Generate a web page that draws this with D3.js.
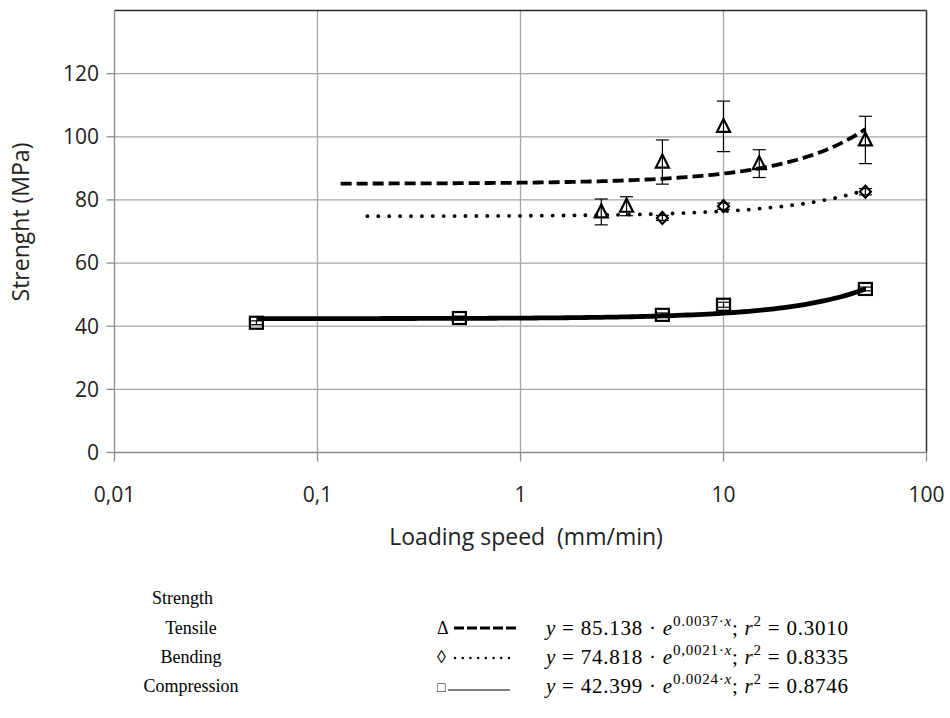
<!DOCTYPE html>
<html>
<head>
  <script src="https://cdnjs.cloudflare.com/ajax/libs/d3/7.8.5/d3.min.js"></script>
  <style>
    body { margin: 0; background: white; }
    .tick-label { font-family: "Open Sans", sans-serif; font-size: 21px; fill: #222; }
    .axis-title { font-family: "Open Sans", sans-serif; font-size: 23px; fill: #222; }
    .legend-text { font-family: "Liberation Serif", serif; font-size: 18px; fill: #000; }
    .eq { font-family: "Liberation Serif", serif; font-size: 21px; fill: #000; }
  </style>
</head>
<body>
  <div id="chart"></div>

  <script>
    // Data
    const xTicks = [0.01, 0.1, 1, 10, 100];
    const xTickLabels = ["0,01", "0,1", "1", "10", "100"];
    const yTicks = [0, 20, 40, 60, 80, 100, 120];

    const tensileX = [2.5, 3.33, 5, 10, 15, 50];
    const tensileY = [76.2, 78, 92, 103.3, 91.5, 99];
    const tensileErr = [4.1, 3, 7, 8, 4.4, 7.5];

    const bendingX = [5, 10, 50];
    const bendingY = [74.3, 78, 82.6];
    const bendingErr = [0.8, 1, 1];

    const compressionX = [0.05, 0.5, 5, 10, 50];
    const compressionY = [41.1, 42.6, 43.6, 46.8, 51.8];
    const compressionErr = [0.6, 0.6, 0.6, 0.8, 0.6];

    // exponential trendlines y = a*e^(b*x), as drawn, and where they start
    const seriesNames = ["Tensile", "Bending", "Compression"];
    const trendA = [85.138, 74.818, 42.4];
    const trendB = [0.0037, 0.0021, 0.004];
    const trendStart = [0.13, 0.176, 0.05];
    const trendEnd = [50, 50, 50];

    const eqCoef = ["85.138", "74.818", "42.399"];
    const eqExp = ["0.0037", "0,0021", "0.0024"];
    const eqR2 = ["0.3010", "0.8335", "0.8746"];

    const width = 950, height = 718;

    const svg = d3.select("#chart").append("svg")
      .attr("width", width)
      .attr("height", height);

    svg.append("rect").attr("width", width).attr("height", height).attr("fill", "white");

    const x = d3.scaleLog().domain([0.01, 100]).range([114.5, 926.5]);
    const y = d3.scaleLinear().domain([0, 140]).range([452.5, 10.5]);

    // gridlines
    svg.selectAll(".hgrid")
      .data(yTicks.filter(d => d > 0))
      .enter().append("line")
      .attr("x1", x(0.01)).attr("x2", x(100))
      .attr("y1", d => y(d)).attr("y2", d => y(d))
      .attr("stroke", "#a6a6a6").attr("stroke-width", 1.3);

    svg.selectAll(".vgrid")
      .data(xTicks.slice(1, -1))
      .enter().append("line")
      .attr("x1", d => x(d)).attr("x2", d => x(d))
      .attr("y1", y(0)).attr("y2", y(140))
      .attr("stroke", "#a6a6a6").attr("stroke-width", 1.3);

    // frame: top and right dark, left and bottom axes gray
    svg.append("line").attr("x1", x(0.01)).attr("x2", x(100)).attr("y1", y(140)).attr("y2", y(140))
      .attr("stroke", "#2a2a2a").attr("stroke-width", 1.6);
    svg.append("line").attr("x1", x(100)).attr("x2", x(100)).attr("y1", y(140)).attr("y2", y(0))
      .attr("stroke", "#3a3a3a").attr("stroke-width", 1.6);
    svg.append("line").attr("x1", x(0.01)).attr("x2", x(0.01)).attr("y1", y(140)).attr("y2", y(0))
      .attr("stroke", "#8c8c8c").attr("stroke-width", 1.3);
    svg.append("line").attr("x1", x(0.01)).attr("x2", x(100)).attr("y1", y(0)).attr("y2", y(0))
      .attr("stroke", "#8c8c8c").attr("stroke-width", 1.3);

    // tick marks
    svg.selectAll(".ytick").data(yTicks).enter().append("line")
      .attr("x1", x(0.01) - 8).attr("x2", x(0.01))
      .attr("y1", d => y(d)).attr("y2", d => y(d))
      .attr("stroke", "#8c8c8c").attr("stroke-width", 1.3);
    svg.selectAll(".xtick").data(xTicks).enter().append("line")
      .attr("x1", d => x(d)).attr("x2", d => x(d))
      .attr("y1", y(0)).attr("y2", y(0) + 9)
      .attr("stroke", "#8c8c8c").attr("stroke-width", 1.3);

    // tick labels
    svg.selectAll(".ylab").data(yTicks).enter().append("text")
      .attr("class", "tick-label")
      .attr("x", 99).attr("y", d => y(d))
      .attr("dy", "0.35em").attr("text-anchor", "end")
      .text(d => d);
    svg.selectAll(".xlab").data(xTicks).enter().append("text")
      .attr("class", "tick-label")
      .attr("x", d => x(d)).attr("y", 502)
      .attr("text-anchor", "middle")
      .text((d, i) => xTickLabels[i]);

    // axis titles
    svg.append("text").attr("class", "axis-title")
      .attr("transform", "translate(29,222) rotate(-90)")
      .attr("text-anchor", "middle")
      .text("Strenght (MPa)");
    svg.append("text").attr("class", "axis-title")
      .attr("x", 526).attr("y", 545)
      .attr("text-anchor", "middle")
      .attr("xml:space", "preserve")
      .style("white-space", "pre")
      .text("Loading speed  (mm/min)");

    // trendlines
    const trendStyles = [
      { width: 3.8, dash: "11 5", cap: "butt" },
      { width: 3.8, dash: "0.1 10.8", cap: "round" },
      { width: 4.8, dash: null, cap: "butt" }
    ];
    const line = d3.line().x(d => x(d[0])).y(d => y(d[1]));

    seriesNames.forEach((name, i) => {
      const l0 = Math.log10(trendStart[i]), l1 = Math.log10(trendEnd[i]);
      const pts = d3.range(0, 121).map(k => {
        const xv = Math.pow(10, l0 + (l1 - l0) * k / 120);
        return [xv, trendA[i] * Math.exp(trendB[i] * xv)];
      });
      svg.append("path")
        .attr("d", line(pts))
        .attr("fill", "none")
        .attr("stroke", "#000")
        .attr("stroke-width", trendStyles[i].width)
        .attr("stroke-linecap", trendStyles[i].cap)
        .attr("stroke-dasharray", trendStyles[i].dash);
    });

    // error bars
    function errorBars(xs, ys, es) {
      const g = svg.append("g").attr("stroke", "#000").attr("stroke-width", 1.2);
      xs.forEach((xv, i) => {
        const cx = x(xv), top = y(ys[i] + es[i]), bot = y(ys[i] - es[i]);
        g.append("line").attr("x1", cx).attr("x2", cx).attr("y1", top).attr("y2", bot);
        g.append("line").attr("x1", cx - 6.5).attr("x2", cx + 6.5).attr("y1", top).attr("y2", top);
        g.append("line").attr("x1", cx - 6.5).attr("x2", cx + 6.5).attr("y1", bot).attr("y2", bot);
      });
    }
    errorBars(tensileX, tensileY, tensileErr);
    errorBars(bendingX, bendingY, bendingErr);
    errorBars(compressionX, compressionY, compressionErr);

    // markers
    const markers = svg.append("g").attr("fill", "none").attr("stroke", "#000").attr("stroke-width", 2.2);
    tensileX.forEach((xv, i) => {
      const cx = x(xv), cy = y(tensileY[i]);
      markers.append("path").attr("d", `M${cx},${cy - 7.5} L${cx + 6.5},${cy + 5.5} L${cx - 6.5},${cy + 5.5} Z`);
    });
    bendingX.forEach((xv, i) => {
      const cx = x(xv), cy = y(bendingY[i]);
      markers.append("path").attr("d", `M${cx},${cy - 6} L${cx + 5.5},${cy} L${cx},${cy + 6} L${cx - 5.5},${cy} Z`);
    });
    compressionX.forEach((xv, i) => {
      const cx = x(xv), cy = y(compressionY[i]);
      markers.append("rect").attr("x", cx - 6.5).attr("y", cy - 6).attr("width", 13).attr("height", 12);
    });

    // legend
    svg.append("text").attr("class", "legend-text").attr("x", 152).attr("y", 604).text("Strength");

    const rowY = [628, 657, 686];
    const legendSym = ["\u0394", "\u25CA", "\u25A1"];
    seriesNames.forEach((name, i) => {
      svg.append("text").attr("class", "legend-text")
        .attr("x", 191).attr("y", rowY[i] + 6)
        .attr("text-anchor", "middle").text(name);
      svg.append("text").attr("class", "legend-text")
        .attr("x", 437).attr("y", rowY[i] + 6)
        .style("font-size", i === 2 ? "14px" : "18px")
        .text(legendSym[i]);

      const eq = svg.append("text").attr("class", "eq")
        .attr("x", 546).attr("y", rowY[i] + 7)
        .attr("textLength", 302).attr("lengthAdjust", "spacing")
        .attr("xml:space", "preserve").style("white-space", "pre");
      eq.append("tspan").style("font-style", "italic").text("y");
      eq.append("tspan").text(" = " + eqCoef[i] + " \u00B7 ");
      eq.append("tspan").style("font-style", "italic").text("e");
      eq.append("tspan").attr("dy", -9).style("font-size", "15px").text(eqExp[i] + "\u00B7");
      eq.append("tspan").style("font-size", "15px").style("font-style", "italic").text("x");
      eq.append("tspan").attr("dy", 9).text("; ");
      eq.append("tspan").style("font-style", "italic").text("r");
      eq.append("tspan").attr("dy", -9).style("font-size", "15px").text("2");
      eq.append("tspan").attr("dy", 9).text(" = " + eqR2[i]);
    });

    // legend line samples
    svg.append("line").attr("x1", 454).attr("x2", 516).attr("y1", 628).attr("y2", 628)
      .attr("stroke", "#000").attr("stroke-width", 2.8).attr("stroke-dasharray", "10 3");
    svg.append("line").attr("x1", 455).attr("x2", 516).attr("y1", 658).attr("y2", 658)
      .attr("stroke", "#000").attr("stroke-width", 2.4).attr("stroke-linecap", "round")
      .attr("stroke-dasharray", "0.1 7.6");
    svg.append("line").attr("x1", 448).attr("x2", 510).attr("y1", 690).attr("y2", 690)
      .attr("stroke", "#000").attr("stroke-width", 1.2);
  </script>
</body>
</html>
